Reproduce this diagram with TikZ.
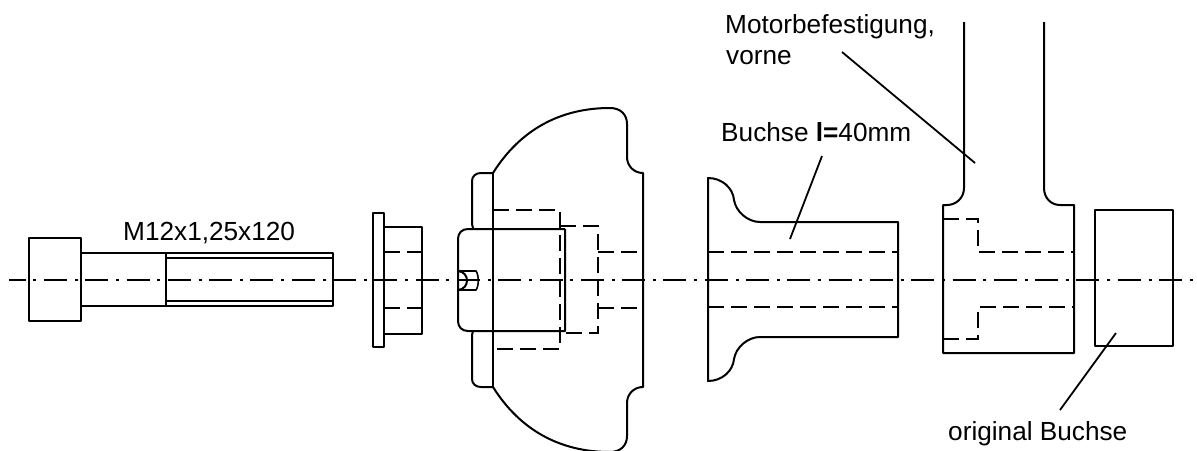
\documentclass[tikz,border=0pt]{standalone}
\usepackage{fontspec}
\setmainfont{Liberation Sans}
\tikzset{
  part/.style={draw=black,line width=2pt,line join=round},
  hidden/.style={draw=black,line width=2pt,dash pattern=on 16pt off 7pt},
  axis/.style={draw=black,line width=1.6pt,dash pattern=on 23pt off 7.8pt on 3pt off 7.5pt,dash phase=6.4pt},
  leader/.style={draw=black,line width=1.8pt},
  lbl/.style={inner sep=0pt,anchor=base west,font=\fontsize{26.2}{30}\selectfont}
}
\begin{document}
\begin{tikzpicture}[x=1pt,y=-1pt]
\useasboundingbox (0,0) rectangle (1197,450);
\clip (0,0) rectangle (1197,450);
% axis
\coordinate (axL) at (9,280); \coordinate (axR) at (1197,280);
\draw[axis] (axL) -- (axR);
% bolt
\draw[part] (29,238) rectangle (81,321);
\draw[part] (81,253) -- (333,253) -- (333,306) -- (81,306);
\draw[part] (166,253) -- (166,306);
\draw[part] (166,258) -- (333,258);
\draw[part] (166,301) -- (333,301);
% washer
\draw[part] (373,213) rectangle (384,347);
\draw[part] (384,227) -- (422,227) -- (422,334) -- (384,334);
\draw[hidden] (384,252) -- (422,252);
\draw[hidden] (384,308) -- (422,308);
% mount, outline
\draw[part] (493,173) .. controls (520,130) and (560,108) .. (610,108)
  .. controls (620,108) and (627,114) .. (627,124) -- (627,157)
  .. controls (627,166) and (634,173) .. (643,173) -- (643,387)
  .. controls (634,387) and (627,394) .. (627,403) -- (627,436)
  .. controls (627,446) and (620,452) .. (610,452)
  .. controls (560,452) and (520,430) .. (493,387);
\draw[part] (493,173) -- (493,387);
\draw[part] (473,228) -- (472,224) -- (472,181) .. controls (472,176) and (476,173) .. (481,173) -- (493,173);
\draw[part] (473,331) -- (472,335) -- (472,379) .. controls (472,384) and (476,387) .. (481,387) -- (493,387);
\draw[part] (565,229) -- (468,229) .. controls (462,229) and (458,233) .. (458,239) -- (458,321)
  .. controls (458,327) and (462,331) .. (468,331) -- (565,331) -- (565,229);
\draw[hidden] (493,210) -- (560,210) -- (560,349) -- (493,349);
\draw[hidden] (560,226) -- (598,226) -- (598,333) -- (560,333);
\draw[hidden] (598,252) -- (643,252);
\draw[hidden] (598,308) -- (643,308);
% set screw
\draw[part,line width=1.6pt] (458,271) -- (476,271) .. controls (479,275) and (479,286) .. (476,290) -- (458,290);
\draw[part,line width=2pt] (458,271) .. controls (470,272) and (470,289) .. (458,290);
% bushing
\draw[part] (708,178) .. controls (722,178) and (733,188) .. (734,200)
  .. controls (736,212) and (748,222) .. (760,222) -- (898,222) -- (898,337) -- (760,337)
  .. controls (748,337) and (736,347) .. (734,359)
  .. controls (733,371) and (722,381) .. (708,381) -- cycle;
\draw[hidden] (708,252) -- (898,252);
\draw[hidden] (708,307) -- (898,307);
% engine mount
\coordinate (nl) at (964,22); \coordinate (nr) at (1044,22);
\draw[part] (nl) -- (964,188) .. controls (964,198) and (956,205) .. (947,205) -- (943,205)
  -- (943,353) -- (1074,353) -- (1074,205) -- (1060,205)
  .. controls (1051,205) and (1044,198) .. (1044,188) -- (nr);
\draw[hidden] (943,219) -- (978,219) -- (978,252) -- (1074,252);
\draw[hidden] (943,339) -- (978,339) -- (978,307) -- (1074,307);
% original bushing
\draw[part] (1095,210) rectangle (1173,346);
% labels
\node[lbl] (tBolt) at (123,240) {M12x1,25x120};
\node[lbl] (tBuchse) at (721,141) {Buchse {\bfseries l=}40mm};
\node[lbl] (tMotor) at (725,33) {Motorbefestigung,};
\node[lbl] (tVorne) at (726,64) {vorne};
\node[lbl] (tOrig) at (948,440) {original Buchse};
% leaders
\coordinate (a1) at (822,156); \coordinate (a2) at (790,239);
\coordinate (b1) at (842,52); \coordinate (b2) at (975,163);
\coordinate (c1) at (1116,333); \coordinate (c2) at (1060,410);
\draw[leader] (a1) -- (a2);
\draw[leader] (b1) -- (b2);
\draw[leader] (c1) -- (c2);
\end{tikzpicture}
\end{document}
